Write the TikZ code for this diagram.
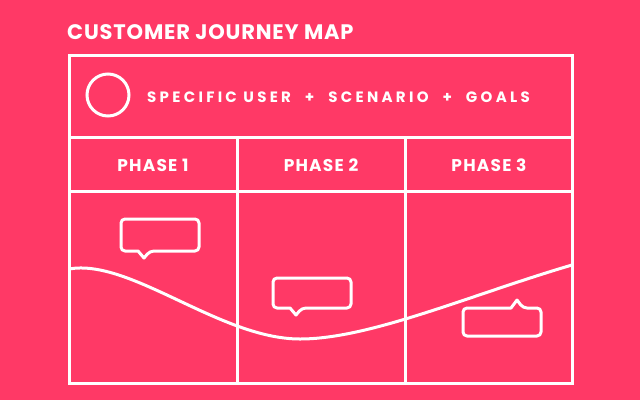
\documentclass[tikz,border=0pt]{standalone}
\usepackage{fontspec}
\setmainfont{Poppins}
\newfontfamily\titlefont{Poppins}[LetterSpace=4]
\newfontfamily\tagfont{Poppins}[LetterSpace=22]
\newfontfamily\phasefont{Poppins}[LetterSpace=7]
\usepackage{tikz}
\usetikzlibrary{positioning}
\definecolor{jpink}{HTML}{FF3966}

\tikzset{
  frame/.style={draw=white, line width=3pt},
  phase/.style={text=white, font=\phasefont\bfseries\fontsize{17}{17}\selectfont},
  bubble/.style={draw=white, line width=3pt, rounded corners=4pt, line join=round}
}

\begin{document}
\begin{tikzpicture}[x=1pt, y=-1pt]
\fill[jpink] (0,0) rectangle (640,400);
\useasboundingbox (0,0) rectangle (640,400);
% title
\node[anchor=west, text=white, font=\titlefont\bfseries\fontsize{21}{21}\selectfont, inner sep=0pt] at (67,32) (title) {CUSTOMER JOURNEY MAP};
% grid
\draw[frame] (69,55) rectangle (572,383);
\draw[frame] (69,137) -- (572,137);
\draw[frame] (69,191) -- (572,191);
\draw[frame] (237,137) -- (237,383);
\draw[frame] (405,137) -- (405,383);
% user row
\node[circle, draw=white, line width=3pt, minimum size=42pt, inner sep=0pt] at (108,95) (user) {};
\node[anchor=west, text=white, font=\tagfont\bfseries\fontsize{15}{15}\selectfont, inner sep=0pt] at (147,97) (goal) {SPECIFIC USER \hspace{7.5pt}+\hspace{7.5pt} SCENARIO \hspace{7.5pt}+\hspace{7.5pt} GOALS};
% phases
\node[phase] at (153,165) (p1) {PHASE 1};
\node[phase] at (321,165) (p2) {PHASE 2};
\node[phase] at (489,165) (p3) {PHASE 3};
% journey line
\draw[frame] (69,269) .. controls (130,258) and (220,339) .. (300,339)
  .. controls (370,339) and (470,295) .. (572,265);
% speech bubbles
\draw[bubble] (138,251) -| (121,219) -| (199,251) -- (150,251) [sharp corners] -- (144,258) -- (138,251) -- cycle;
\draw[bubble] (290,308) -| (273,278) -| (351,308) -- (302,308) [sharp corners] -- (296,315) -- (290,308) -- cycle;
\draw[bubble] (511,308) -| (463,336) -| (541,308) -- (523,308) [sharp corners] -- (517,300) -- (511,308) -- cycle;
\end{tikzpicture}
\end{document}
